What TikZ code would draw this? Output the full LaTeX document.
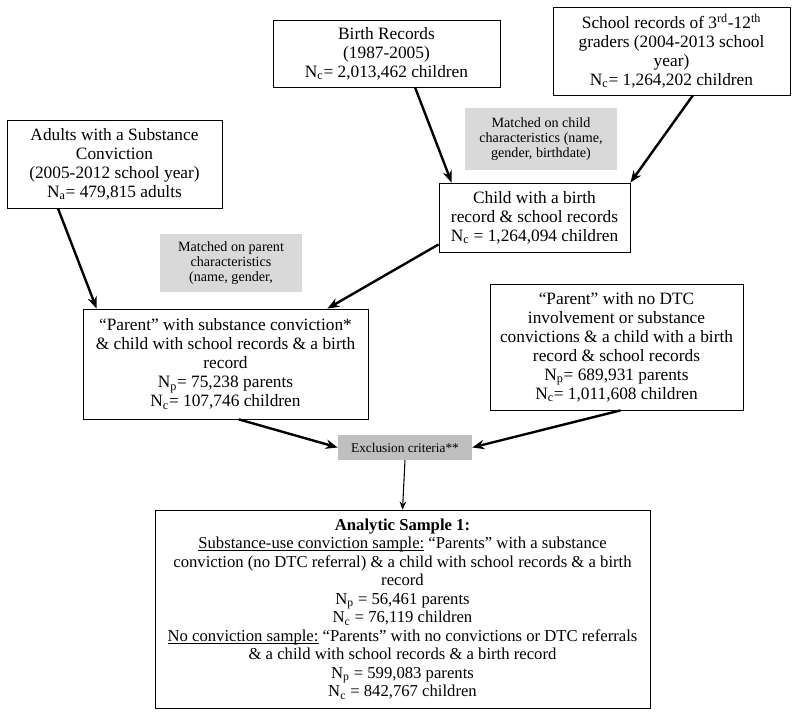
\documentclass[tikz,border=0pt]{standalone}
\usepackage{fontspec}
\setmainfont{Liberation Serif}
\usetikzlibrary{arrows.meta}
\definecolor{matchgray}{RGB}{217,217,217}
\definecolor{exclgray}{RGB}{191,191,191}
\newcommand{\undertext}[1]{\setbox0\hbox{#1}\rlap{\rule[-1.6pt]{\wd0}{0.5pt}}\box0\relax}
\tikzset{every node/.style={align=center,inner sep=0pt},
         recbox/.style={draw,line width=0.6pt,font=\fontsize{13}{14.3}\selectfont},
         notebox/.style={fill=matchgray,font=\fontsize{10.6}{11.4}\selectfont},
         exclbox/.style={fill=exclgray,font=\fontsize{10}{12}\selectfont},
         flow/.style={-{Stealth[length=9pt,width=7pt]},line width=1.8pt},
         thinflow/.style={-{Stealth[length=6pt,width=5pt]},line width=0.8pt},
         }
\begin{document}
\begin{tikzpicture}[x=0.75pt,y=-0.75pt]
\useasboundingbox (0,0) rectangle (800,720);
% sources
\node[recbox,minimum width=170.25pt,minimum height=50.25pt] (birth) at (386.5,53.5)
  {Birth Records\\(1987-2005)\\N\textsubscript{c}= 2,013,462 children};
\node[recbox,minimum width=177.75pt,minimum height=66pt] (school) at (671.5,51)
  {School records of 3\textsuperscript{rd}-12\textsuperscript{th}\\graders (2004-2013 school\\year)\\N\textsubscript{c}= 1,264,202 children};
\node[recbox,minimum width=161.25pt,minimum height=66pt] (adults) at (114.5,164)
  {Adults with a Substance\\Conviction\\(2005-2012 school year)\\N\textsubscript{a}= 479,815 adults};
% matching
\node[notebox,minimum width=114pt,minimum height=46.5pt] (matchchild) at (541,139)
  {Matched on child\\characteristics (name,\\gender, birthdate)};
\node[recbox,minimum width=143.25pt,minimum height=51.75pt] (child) at (534.5,217.5)
  {Child with a birth\\record \& school records\\N\textsubscript{c} = 1,264,094 children};
\node[notebox,minimum width=106.5pt,minimum height=43.5pt] (matchparent) at (231,263)
  {Matched on parent\\characteristics\\(name, gender,};
\node[recbox,minimum width=213.75pt,minimum height=82.5pt] (parent) at (225.5,364)
  {“Parent” with substance conviction*\\\& child with school records \& a birth\\record\\N\textsubscript{p}= 75,238 parents\\N\textsubscript{c}= 107,746 children};
\node[recbox,minimum width=189.75pt,minimum height=94.5pt] (nodtc) at (616.5,347)
  {“Parent” with no DTC\\involvement or substance\\convictions \& a child with a birth\\record \& school records\\N\textsubscript{p}= 689,931 parents\\N\textsubscript{c}= 1,011,608 children};
% exclusion and final sample
\node[exclbox,minimum width=100.5pt,minimum height=18.75pt] (excl) at (405,447.5) {Exclusion criteria**};
\node[recbox,font=\fontsize{12.5}{13.9}\selectfont,minimum width=371.25pt,minimum height=148.5pt] (sample) at (402.5,609)
  {\textbf{Analytic Sample 1:}\\
   \undertext{Substance-use conviction sample:} “Parents” with a substance\\
   conviction (no DTC referral) \& a child with school records \& a birth\\
   record\\
   N\textsubscript{p} = 56,461 parents\\
   N\textsubscript{c} = 76,119 children\\
   \undertext{No conviction sample:} “Parents” with no convictions or DTC referrals\\
   \& a child with school records \& a birth record\\
   N\textsubscript{p} = 599,083 parents\\
   N\textsubscript{c} = 842,767 children};
% connectors
\draw[flow] ([xshift=21.4pt]birth.south) -- ([xshift=9.75pt]child.north west);
\draw[flow] ([xshift=16pt]school.south) -- (child.north east);
\draw[flow] ([xshift=-42.4pt]adults.south) -- ([xshift=10.5pt]parent.north west);
\draw[flow] ([yshift=6pt]child.south west) -- ([xshift=-30.75pt]parent.north east);
\draw[flow] ([xshift=10pt]parent.south) -- (excl.west);
\draw[flow] ([xshift=3pt]nodtc.south) -- (excl.east);
\draw[thinflow] (excl.south) -- (sample.north);
\end{tikzpicture}
\end{document}
